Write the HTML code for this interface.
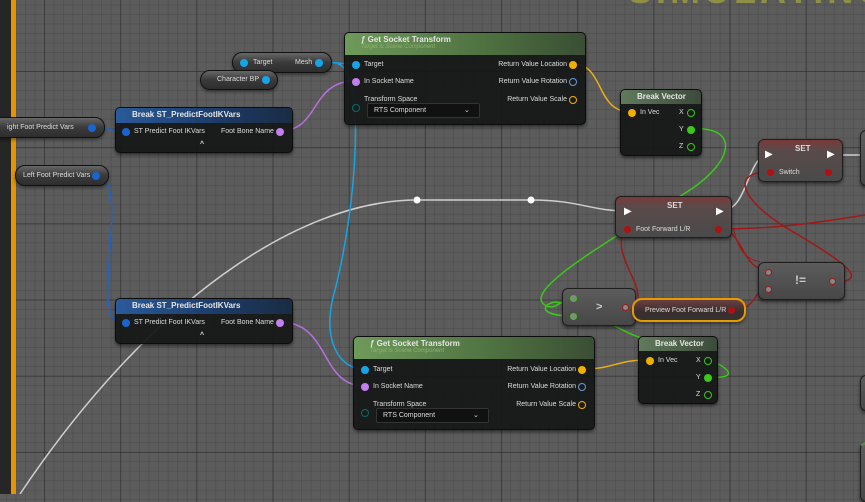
<!DOCTYPE html>
<html><head><meta charset="utf-8"><style>
*{box-sizing:border-box;margin:0;padding:0}
body{width:865px;height:494px;overflow:hidden;position:relative;font-family:"Liberation Sans",sans-serif;color:#ddd;
background-color:#5c5c5c;
background-image:
linear-gradient(90deg,rgba(40,40,40,.5) 1px,transparent 1px),
linear-gradient(0deg,rgba(40,40,40,.5) 1px,transparent 1px),
linear-gradient(90deg,rgba(72,72,72,.5) 1px,transparent 1px),
linear-gradient(0deg,rgba(72,72,72,.5) 1px,transparent 1px);
background-size:76.2px 76.2px,76.2px 76.2px,9.525px 9.525px,9.525px 9.525px;
background-position:44px 72px,44px 72px,44px 72px,44px 72px}
.n{position:absolute;background:rgba(22,24,24,.95);border:1px solid #0c0c0c;border-radius:5px;box-shadow:0 2px 3px rgba(0,0,0,.5);font-size:7px}
.p{position:absolute;background:linear-gradient(#666 0%,#3a3a3a 50%,#2e2e2e);border:1px solid #111;border-radius:10px;font-size:7px;box-shadow:0 2px 3px rgba(0,0,0,.4)}
.g{position:absolute;background:linear-gradient(#5c5c5c,#474747);border:1px solid #1e1e1e;border-radius:6px;box-shadow:0 2px 3px rgba(0,0,0,.5)}
.t{position:absolute;white-space:nowrap;font-size:7px;color:#ddd}
.hb{position:absolute;left:0;right:0;top:0;border-radius:4px 4px 0 0;font-size:8px;font-weight:bold;color:#e6e6e6;padding:2px 0 0 16px;text-align:left}
.d{position:absolute;width:8px;height:8px;border-radius:50%}
</style></head><body>
<div style="position:absolute;left:0;top:0;width:11px;height:494px;background:#262626"></div>
<div style="position:absolute;left:11px;top:0;width:5px;height:494px;background:#e69500"></div>
<div style="position:absolute;left:628px;top:-30px;font-size:36px;font-weight:bold;color:#8f8f45;letter-spacing:4px;white-space:nowrap">SIMULATING</div>

<svg width="865" height="494" style="position:absolute;left:0;top:0" fill="none">
<path d="M20 494 C150 300 300 200 417 200 L531 200 C580 200 590 211 627 211" stroke="#cfcfcf" stroke-width="1.5"/>
<path d="M720 211 C750 211 745 155 770 155" stroke="#cfcfcf" stroke-width="1.5"/>
<path d="M830 155 L865 155" stroke="#cfcfcf" stroke-width="1.5"/>
<circle cx="417" cy="200" r="3.5" fill="#fff"/><circle cx="531" cy="200" r="3.5" fill="#fff"/>
<path d="M91 127 C108 127 108 131 125 131" stroke="#1a64d0" stroke-width="1.5"/>
<path d="M95 175 C125 175 105 260 108 300 C110 320 115 322 125 322" stroke="#1a64d0" stroke-width="1.5"/>
<path d="M318 62 C335 62 340 64 355 64" stroke="#16a4e8" stroke-width="1.5"/>
<path d="M338 64 C365 70 358 200 335 290 C320 340 340 369 363 369" stroke="#16a4e8" stroke-width="1.5"/>
<path d="M280 131 C320 131 310 81 355 81" stroke="#b86ee0" stroke-width="1.5"/>
<path d="M280 322 C330 322 320 386 364 386" stroke="#b86ee0" stroke-width="1.5"/>
<path d="M573 64 C605 64 595 112 631 112" stroke="#e8b010" stroke-width="1.5"/>
<path d="M582 369 C615 369 615 360 649 360" stroke="#e8b010" stroke-width="1.5"/>
<path d="M689 129 C740 125 735 160 690 190 C620 235 520 290 545 305 C555 312 565 297 573 297" stroke="#3ac81a" stroke-width="1.5"/>
<path d="M573 316 C540 316 540 305 555 302 C590 305 620 335 650 340 C700 350 760 380 709 377" stroke="#3ac81a" stroke-width="1.5"/>
<path d="M718 229 C780 229 820 222 865 215" stroke="#a01818" stroke-width="1.5"/>
<path d="M718 229 C745 229 740 270 768 270" stroke="#a01818" stroke-width="1.5"/>
<path d="M769 172 C730 172 740 200 790 230 C850 265 870 282 832 282" stroke="#a01818" stroke-width="1.5"/>
<path d="M730 310 C760 310 750 290 768 290" stroke="#a01818" stroke-width="1.5"/>
<path d="M626 229 C610 250 640 280 638 298" stroke="#a01818" stroke-width="1.5"/>
<path d="M734 230 C740 260 755 260 760 262" stroke="#a01818" stroke-width="1"/>
</svg>

<div class="p" style="left:232px;top:52px;width:100px;height:21px"><div class="d" style="left:7px;top:6px;background:#16a4e8"></div><span class="t" style="left:20px;top:6px">Target</span><span class="t" style="left:62px;top:6px">Mesh</span><div class="d" style="left:82px;top:6px;background:#16a4e8"></div></div>
<div class="p" style="left:200px;top:70px;width:78px;height:20px"><span class="t" style="left:16px;top:5px">Character BP</span><div class="d" style="left:61px;top:5px;background:#16a4e8"></div></div>
<div class="p" style="left:-10px;top:117px;width:115px;height:21px"><span class="t" style="left:16px;top:6px">ight Foot Predict Vars</span><div class="d" style="left:97px;top:6px;background:#1a64d0"></div></div>
<div class="p" style="left:15px;top:165px;width:94px;height:21px"><span class="t" style="left:7px;top:6px">Left Foot Predict Vars</span><div class="d" style="left:76px;top:6px;background:#1a64d0"></div></div>

<div class="n" style="left:115px;top:107px;width:178px;height:46px"><div class="hb" style="height:15px;background:linear-gradient(90deg,#2a5a9a,#1c3a66 60%,#1a2c44)">Break ST_PredictFootIKVars</div>
<div class="d" style="left:6px;top:20px;background:#1a64d0"></div><span class="t" style="left:18px;top:20px">ST Predict Foot IKVars</span><span class="t" style="left:105px;top:20px">Foot Bone Name</span><div class="d" style="left:160px;top:20px;background:#c37ef0"></div><span class="t" style="left:84px;top:33px;font-weight:bold">^</span></div>
<div class="n" style="left:115px;top:298px;width:178px;height:46px"><div class="hb" style="height:15px;background:linear-gradient(90deg,#2a5a9a,#1c3a66 60%,#1a2c44)">Break ST_PredictFootIKVars</div>
<div class="d" style="left:6px;top:20px;background:#1a64d0"></div><span class="t" style="left:18px;top:20px">ST Predict Foot IKVars</span><span class="t" style="left:105px;top:20px">Foot Bone Name</span><div class="d" style="left:160px;top:20px;background:#c37ef0"></div><span class="t" style="left:84px;top:33px;font-weight:bold">^</span></div>

<div class="n" style="left:344px;top:32px;width:242px;height:93px"><div class="hb" style="height:22px;background:linear-gradient(90deg,#6e9a5a,#4e7040 60%,#3a4e34)">ƒ Get Socket Transform<div style="font-size:6px;font-style:italic;font-weight:normal;color:#8fb070">Target is Scene Component</div></div>
<div class="d" style="left:7px;top:28px;background:#16a4e8"></div><span class="t" style="left:19px;top:28px">Target</span>
<div class="d" style="left:7px;top:45px;background:#c37ef0"></div><span class="t" style="left:19px;top:45px">In Socket Name</span>
<span class="t" style="left:19px;top:63px">Transform Space</span><div class="d" style="left:7px;top:71px;border:1.5px solid #0b6a66"></div>
<div style="position:absolute;left:22px;top:70px;width:113px;height:15px;background:#111;border:1px solid #333;border-radius:2px"><span class="t" style="left:6px;top:3px">RTS Component</span><span class="t" style="left:96px;top:2px">⌄</span></div>
<span class="t" style="right:18px;top:28px">Return Value Location</span><div class="d" style="right:8px;top:28px;background:#f0b000"></div>
<span class="t" style="right:18px;top:45px">Return Value Rotation</span><div class="d" style="right:8px;top:45px;border:1.5px solid #6a9ad8"></div>
<span class="t" style="right:18px;top:63px">Return Value Scale</span><div class="d" style="right:8px;top:63px;border:1.5px solid #f0b000"></div></div>
<div class="n" style="left:353px;top:336px;width:242px;height:94px"><div class="hb" style="height:22px;background:linear-gradient(90deg,#6e9a5a,#4e7040 60%,#3a4e34)">ƒ Get Socket Transform<div style="font-size:6px;font-style:italic;font-weight:normal;color:#8fb070">Target is Scene Component</div></div>
<div class="d" style="left:7px;top:29px;background:#16a4e8"></div><span class="t" style="left:19px;top:29px">Target</span>
<div class="d" style="left:7px;top:46px;background:#c37ef0"></div><span class="t" style="left:19px;top:46px">In Socket Name</span>
<span class="t" style="left:19px;top:64px">Transform Space</span><div class="d" style="left:7px;top:72px;border:1.5px solid #0b6a66"></div>
<div style="position:absolute;left:22px;top:71px;width:113px;height:15px;background:#111;border:1px solid #333;border-radius:2px"><span class="t" style="left:6px;top:3px">RTS Component</span><span class="t" style="left:96px;top:2px">⌄</span></div>
<span class="t" style="right:18px;top:29px">Return Value Location</span><div class="d" style="right:8px;top:29px;background:#f0b000"></div>
<span class="t" style="right:18px;top:46px">Return Value Rotation</span><div class="d" style="right:8px;top:46px;border:1.5px solid #6a9ad8"></div>
<span class="t" style="right:18px;top:64px">Return Value Scale</span><div class="d" style="right:8px;top:64px;border:1.5px solid #f0b000"></div></div>

<div class="n" style="left:620px;top:89px;width:82px;height:67px"><div class="hb" style="height:14px;background:linear-gradient(90deg,#607a5c,#3c4a3a)">Break Vector</div>
<div class="d" style="left:7px;top:19px;background:#f0b000"></div><span class="t" style="left:19px;top:19px">In Vec</span>
<span class="t" style="left:58px;top:19px">X</span><div class="d" style="left:66px;top:19px;border:1.5px solid #3ac81a"></div>
<span class="t" style="left:58px;top:36px">Y</span><div class="d" style="left:66px;top:36px;background:#3ac81a"></div>
<span class="t" style="left:58px;top:53px">Z</span><div class="d" style="left:66px;top:53px;border:1.5px solid #3ac81a"></div></div>
<div class="n" style="left:638px;top:336px;width:80px;height:68px"><div class="hb" style="height:14px;background:linear-gradient(90deg,#607a5c,#3c4a3a)">Break Vector</div>
<div class="d" style="left:7px;top:20px;background:#f0b000"></div><span class="t" style="left:19px;top:20px">In Vec</span>
<span class="t" style="left:57px;top:20px">X</span><div class="d" style="left:65px;top:20px;border:1.5px solid #3ac81a"></div>
<span class="t" style="left:57px;top:37px">Y</span><div class="d" style="left:65px;top:37px;background:#3ac81a"></div>
<span class="t" style="left:57px;top:54px">Z</span><div class="d" style="left:65px;top:54px;border:1.5px solid #3ac81a"></div></div>

<div class="g" style="left:758px;top:139px;width:85px;height:43px;background:linear-gradient(#7a3a3a 0%,#5a4a4a 25%,#4a4a4a)"><span class="t" style="left:36px;top:4px;font-size:8px;font-weight:bold">SET</span>
<span class="t" style="left:6px;top:9px;font-size:10px;color:#fff">▶</span><span class="t" style="left:68px;top:9px;font-size:10px;color:#fff">▶</span>
<div class="d" style="left:8px;top:29px;width:7px;height:7px;background:#b01010"></div><span class="t" style="left:20px;top:29px">Switch</span><div class="d" style="left:66px;top:29px;width:7px;height:7px;background:#b01010"></div></div>
<div class="g" style="left:615px;top:196px;width:117px;height:42px;background:linear-gradient(#7a3a3a 0%,#5a4a4a 25%,#4a4a4a)"><span class="t" style="left:51px;top:4px;font-size:8px;font-weight:bold">SET</span>
<span class="t" style="left:8px;top:9px;font-size:10px;color:#fff">▶</span><span class="t" style="left:100px;top:9px;font-size:10px;color:#fff">▶</span>
<div class="d" style="left:8px;top:29px;width:7px;height:7px;background:#b01010"></div><span class="t" style="left:20px;top:29px">Foot Forward L/R</span><div class="d" style="left:99px;top:29px;width:7px;height:7px;background:#b01010"></div></div>
<div class="g" style="left:860px;top:130px;width:20px;height:56px"></div>
<div class="g" style="left:860px;top:375px;width:20px;height:36px"></div>
<div class="g" style="left:860px;top:442px;width:20px;height:60px;border-top:3px solid #5a8a4a"></div>

<div class="g" style="left:758px;top:262px;width:87px;height:38px"><div class="d" style="left:6px;top:6px;width:7px;height:7px;border:1.5px solid #a01818;background:#888"></div><div class="d" style="left:6px;top:23px;width:7px;height:7px;border:1.5px solid #a01818;background:#888"></div><span class="t" style="left:36px;top:10px;font-size:12px;font-weight:bold;color:#ccc">!=</span><div class="d" style="left:70px;top:15px;width:7px;height:7px;border:1.5px solid #a01818;background:#888"></div></div>
<div class="g" style="left:562px;top:288px;width:74px;height:38px"><div class="d" style="left:7px;top:6px;width:7px;height:7px;border:1.5px solid #3ac81a;background:#888"></div><div class="d" style="left:7px;top:24px;width:7px;height:7px;border:1.5px solid #3ac81a;background:#888"></div><span class="t" style="left:33px;top:12px;font-size:11px;font-weight:bold;color:#ccc">&gt;</span><div class="d" style="left:59px;top:15px;width:7px;height:7px;border:1.5px solid #a01818;background:#888"></div></div>
<div class="p" style="left:632px;top:298px;width:114px;height:24px;border:2px solid #e89a00;background:linear-gradient(#6a4040,#3a2e2e 60%,#333)"><span class="t" style="left:11px;top:7px">Preview Foot Forward L/R</span><div class="d" style="left:94px;top:7px;width:7px;height:7px;background:#b01010"></div></div>
</body></html>
